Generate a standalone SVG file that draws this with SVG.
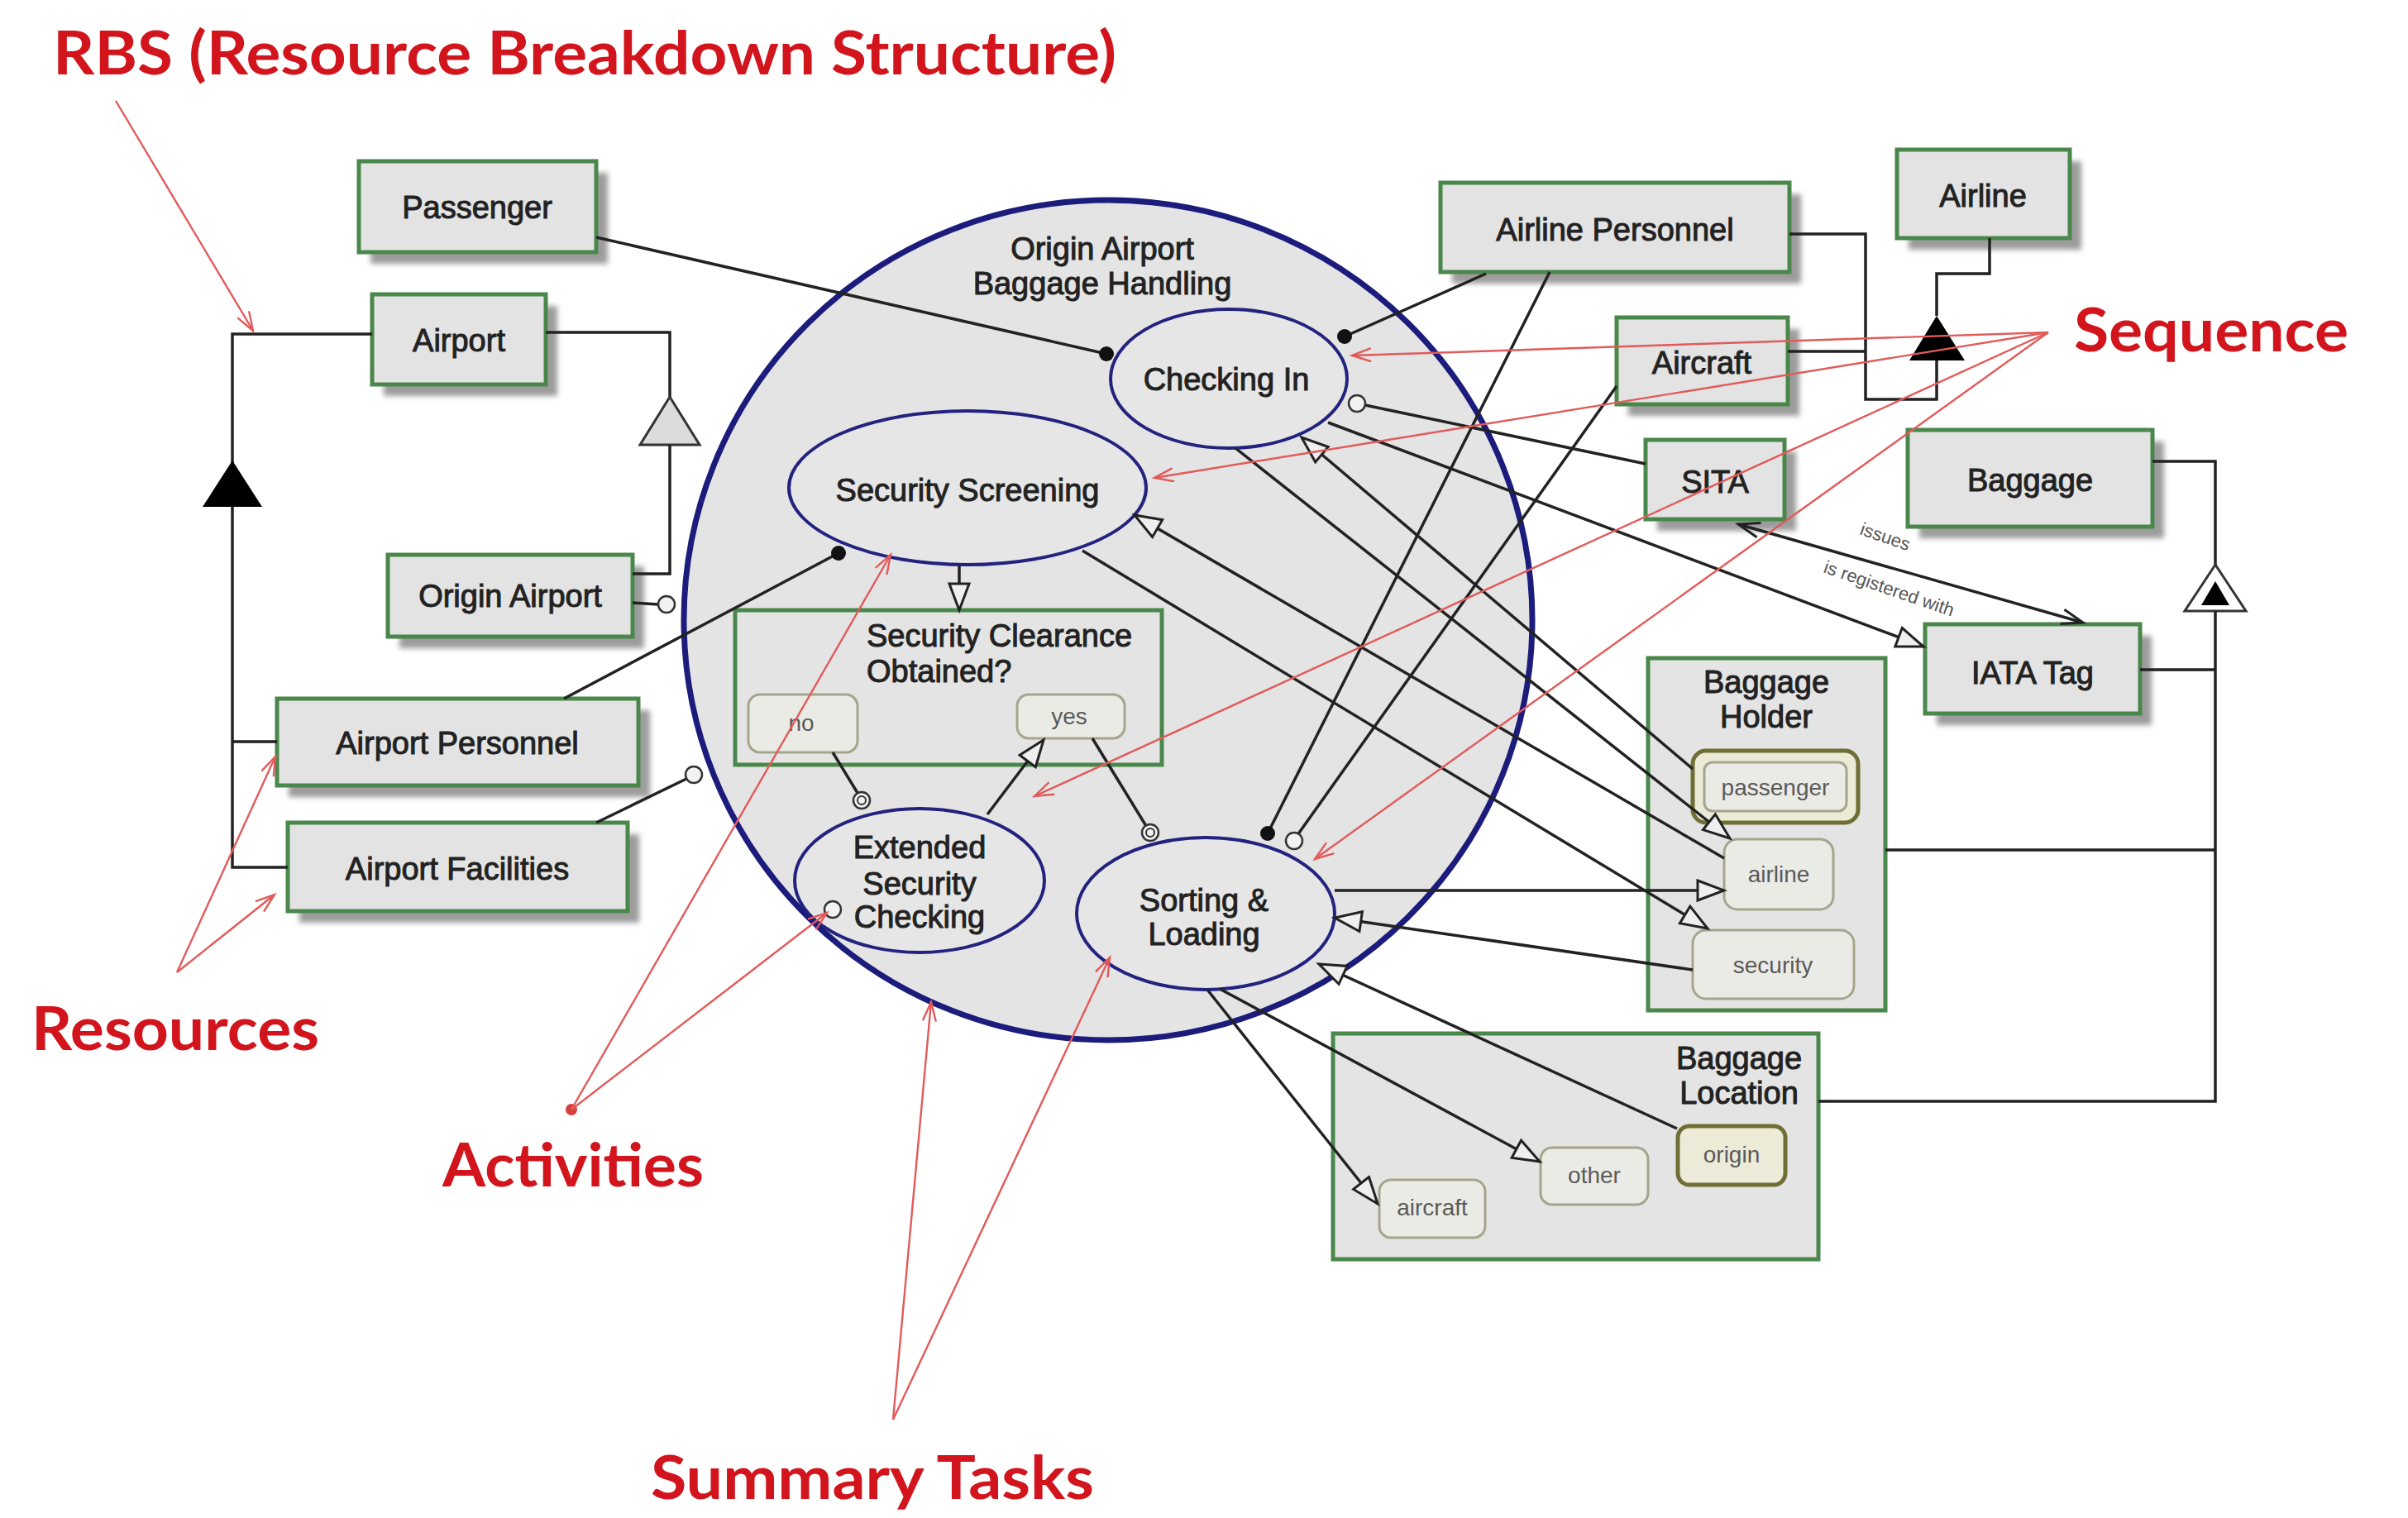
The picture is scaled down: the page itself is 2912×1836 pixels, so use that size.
<svg xmlns="http://www.w3.org/2000/svg" width="2912" height="1836" viewBox="0 0 2912 1836">
<defs>
<style>
.shadow{fill:#9c9c9c;filter:url(#sh)}
.box{fill:#e3e3e3;stroke:#4a874a;stroke-width:5}
.cont{fill:#e4e4e4;stroke:#4a874a;stroke-width:5}
.lbl{font-family:"Liberation Sans",Arial,sans-serif;font-size:38px;fill:#222;text-anchor:middle;stroke:#222;stroke-width:1}
.ann{font-family:Lato,"Open Sans",sans-serif;font-size:72px;font-weight:bold;fill:#d2141c}
.ln{fill:none;stroke:#222;stroke-width:3.5}
.red{fill:none;stroke:#e25a5a;stroke-width:2.4}
.act{fill:#e6e6e6;stroke:#23237f;stroke-width:4}
.pill{fill:#ebebe6;stroke:#a5a58c;stroke-width:3}
.pillx{fill:#ecebd8;stroke:#6f6f35;stroke-width:5}
.pt{font-family:"Liberation Sans",Arial,sans-serif;font-size:28px;fill:#5a5a5a;text-anchor:middle}
.dot{fill:#111}
.hc{fill:#f2f2f2;stroke:#333;stroke-width:2.5}
.rl{font-family:"Liberation Sans",Arial,sans-serif;font-size:22px;fill:#555}
</style>
<filter id="sh" x="-10%" y="-10%" width="130%" height="140%"><feGaussianBlur stdDeviation="3"/></filter>
<marker id="tri" markerUnits="userSpaceOnUse" markerWidth="38" markerHeight="30" refX="34" refY="14" orient="auto"><path d="M2,2 L34,14 L2,26 Z" fill="#efefef" stroke="#222" stroke-width="3"/></marker>
<marker id="vee" markerUnits="userSpaceOnUse" markerWidth="32" markerHeight="24" refX="28" refY="11" orient="auto-start-reverse"><path d="M2,2 L28,11 L2,20" fill="none" stroke="#222" stroke-width="3"/></marker>
<marker id="rv" markerUnits="userSpaceOnUse" markerWidth="28" markerHeight="20" refX="24" refY="9" orient="auto"><path d="M1,1 L24,9 L1,17" fill="none" stroke="#e25a5a" stroke-width="2.4"/></marker>
</defs>
<rect width="2912" height="1836" fill="#ffffff"/>

<!-- containers -->
<g id="origin-airport-baggage-handling">
<ellipse cx="1340" cy="750" rx="513" ry="508" fill="#e4e4e4" stroke="#1c1c7c" stroke-width="7"/>
<text class="lbl" x="1333" y="314">Origin Airport</text>
<text class="lbl" x="1333" y="356">Baggage Handling</text>
</g>
<g id="security-clearance">
<rect class="cont" x="889" y="738" width="516" height="187"/>
<text class="lbl" x="1048" y="782" style="text-anchor:start">Security Clearance</text>
<text class="lbl" x="1048" y="825" style="text-anchor:start">Obtained?</text>
<g id="no"><rect class="pill" x="905" y="840" width="132" height="70" rx="14"/><text class="pt" x="969" y="884">no</text></g>
<g id="yes"><rect class="pill" x="1230" y="840" width="130" height="53" rx="14"/><text class="pt" x="1293" y="876">yes</text></g>
</g>
<g id="baggage-holder">
<rect class="cont" x="1993" y="796" width="287" height="426"/>
<text class="lbl" x="2136" y="838">Baggage</text>
<text class="lbl" x="2136" y="880">Holder</text>
<g id="bh-passenger"><rect class="pillx" x="2047" y="908" width="200" height="87" rx="16"/><rect class="pill" x="2061" y="922" width="172" height="59" rx="10"/><text class="pt" x="2147" y="962">passenger</text></g>
<g id="bh-airline"><rect class="pill" x="2085" y="1015" width="132" height="85" rx="16"/><text class="pt" x="2151" y="1067">airline</text></g>
<g id="bh-security"><rect class="pill" x="2047" y="1125" width="195" height="83" rx="16"/><text class="pt" x="2144" y="1177">security</text></g>
</g>
<g id="baggage-location">
<rect class="cont" x="1612" y="1250" width="587" height="273"/>
<text class="lbl" x="2103" y="1293">Baggage</text>
<text class="lbl" x="2103" y="1335">Location</text>
<g id="bl-origin"><rect class="pillx" x="2029" y="1362" width="130" height="71" rx="14"/><text class="pt" x="2094" y="1406">origin</text></g>
<g id="bl-other"><rect class="pill" x="1863" y="1388" width="130" height="69" rx="14"/><text class="pt" x="1928" y="1431">other</text></g>
<g id="bl-aircraft"><rect class="pill" x="1668" y="1427" width="128" height="70" rx="14"/><text class="pt" x="1732" y="1470">aircraft</text></g>
</g>

<!-- activities -->
<g id="checking-in"><ellipse class="act" cx="1486" cy="458" rx="143" ry="84"/><text class="lbl" x="1483" y="472">Checking In</text></g>
<g id="security-screening"><ellipse class="act" cx="1170" cy="590" rx="216" ry="93"/><text class="lbl" x="1170" y="606">Security Screening</text></g>
<g id="extended-security-checking"><ellipse class="act" cx="1112" cy="1065" rx="151" ry="87" stroke-width="4.5"/>
<text class="lbl" x="1112" y="1038">Extended</text><text class="lbl" x="1112" y="1082">Security</text><text class="lbl" x="1112" y="1122">Checking</text></g>
<g id="sorting-loading"><ellipse class="act" cx="1458" cy="1105" rx="156" ry="92" stroke-width="7"/>
<text class="lbl" x="1456" y="1102">Sorting &amp;</text><text class="lbl" x="1456" y="1143">Loading</text></g>

<!-- resource nodes -->
<g id="passenger"><rect class="shadow" x="448" y="209" width="287" height="110"/><rect class="box" x="434" y="195" width="287" height="110"/><text class="lbl" x="577" y="264">Passenger</text></g>
<g id="airport"><rect class="shadow" x="464" y="370" width="210" height="109"/><rect class="box" x="450" y="356" width="210" height="109"/><text class="lbl" x="555" y="425">Airport</text></g>
<g id="origin-airport"><rect class="shadow" x="483" y="685" width="296" height="99"/><rect class="box" x="469" y="671" width="296" height="99"/><text class="lbl" x="617" y="734">Origin Airport</text></g>
<g id="airport-personnel"><rect class="shadow" x="349" y="859" width="437" height="105"/><rect class="box" x="335" y="845" width="437" height="105"/><text class="lbl" x="553" y="912">Airport Personnel</text></g>
<g id="airport-facilities"><rect class="shadow" x="362" y="1009" width="411" height="107"/><rect class="box" x="348" y="995" width="411" height="107"/><text class="lbl" x="553" y="1064">Airport Facilities</text></g>
<g id="airline-personnel"><rect class="shadow" x="1756" y="235" width="422" height="108"/><rect class="box" x="1742" y="221" width="422" height="108"/><text class="lbl" x="1953" y="291">Airline Personnel</text></g>
<g id="airline"><rect class="shadow" x="2308" y="195" width="209" height="107"/><rect class="box" x="2294" y="181" width="209" height="107"/><text class="lbl" x="2398" y="250">Airline</text></g>
<g id="aircraft"><rect class="shadow" x="1969" y="398" width="207" height="105"/><rect class="box" x="1955" y="384" width="207" height="105"/><text class="lbl" x="2058" y="452">Aircraft</text></g>
<g id="sita"><rect class="shadow" x="2004" y="546" width="168" height="96"/><rect class="box" x="1990" y="532" width="168" height="96"/><text class="lbl" x="2074" y="596">SITA</text></g>
<g id="baggage"><rect class="shadow" x="2321" y="534" width="296" height="117"/><rect class="box" x="2307" y="520" width="296" height="117"/><text class="lbl" x="2455" y="594">Baggage</text></g>
<g id="iata-tag"><rect class="shadow" x="2342" y="769" width="260" height="108"/><rect class="box" x="2328" y="755" width="260" height="108"/><text class="lbl" x="2458" y="827">IATA Tag</text></g>

<!-- connectors -->
<g id="connectors">
<path class="ln" d="M450,404 H281 V1049 H348"/>
<path class="ln" d="M281,897 H335"/>
<path d="M281,557 L245,613 L317,613 Z" fill="#000"/>
<path class="ln" d="M660,402 H810 V480"/>
<path d="M810,480 L774,538 L846,538 Z" fill="#dcdcdc" stroke="#333" stroke-width="3"/>
<path class="ln" d="M810,538 V694 H765"/>
<path class="ln" d="M2406,288 V331 H2342 V382"/>
<path d="M2342,382 L2309,436 L2376,436 Z" fill="#000"/>
<path class="ln" d="M2342,436 V483 H2256 V283 H2164"/>
<path class="ln" d="M2162,425 H2256"/>
<path class="ln" d="M2603,558 H2679 V683"/>
<path d="M2679,683 L2642,739 L2716,739 Z" fill="#fff" stroke="#333" stroke-width="3"/>
<path d="M2679,703 L2662,732 L2696,732 Z" fill="#000"/>
<path class="ln" d="M2679,739 V1332 H2199"/>
<path class="ln" d="M2588,810 H2679"/>
<path class="ln" d="M2280,1028 H2679"/>
<line class="ln" x1="721" y1="287" x2="1338" y2="428"/><circle class="dot" cx="1338" cy="428" r="9"/>
<line class="ln" x1="1797" y1="331" x2="1626" y2="407"/><circle class="dot" cx="1626" cy="407" r="9"/>
<line class="ln" x1="1874" y1="329" x2="1533" y2="1008"/><circle class="dot" cx="1533" cy="1008" r="9"/>
<line class="ln" x1="1955" y1="467" x2="1569" y2="1010"/><circle class="hc" cx="1565" cy="1017" r="10"/>
<line class="ln" x1="1990" y1="561" x2="1651" y2="490"/><circle class="hc" cx="1641" cy="488" r="10"/>
<line class="ln" x1="765" y1="729" x2="796" y2="731"/><circle class="hc" cx="806" cy="731" r="10"/>
<line class="ln" x1="682" y1="845" x2="1014" y2="669"/><circle class="dot" cx="1014" cy="669" r="9"/>
<line class="ln" x1="721" y1="995" x2="830" y2="942"/><circle class="hc" cx="839" cy="937" r="10"/>
<circle class="hc" cx="1007" cy="1100" r="10"/>
<line class="ln" x1="1160" y1="684" x2="1160" y2="738" marker-end="url(#tri)"/>
<line class="ln" x1="1007" y1="910" x2="1037" y2="959"/><circle class="hc" cx="1042" cy="968" r="10"/><circle cx="1042" cy="968" r="5" fill="none" stroke="#333" stroke-width="2"/>
<line class="ln" x1="1321" y1="893" x2="1386" y2="999"/><circle class="hc" cx="1391" cy="1007" r="10"/><circle cx="1391" cy="1007" r="5" fill="none" stroke="#333" stroke-width="2"/>
<line class="ln" x1="1194" y1="985" x2="1262" y2="895" marker-end="url(#tri)"/>
<line class="ln" x1="1494" y1="542" x2="2092" y2="1014" marker-end="url(#tri)"/>
<line class="ln" x1="2047" y1="930" x2="1574" y2="529" marker-end="url(#tri)"/>
<line class="ln" x1="2085" y1="1038" x2="1372" y2="623" marker-end="url(#tri)"/>
<line class="ln" x1="1309" y1="666" x2="2065" y2="1123" marker-end="url(#tri)"/>
<line class="ln" x1="1614" y1="1077" x2="2085" y2="1077" marker-end="url(#tri)"/>
<line class="ln" x1="2047" y1="1173" x2="1614" y2="1110" marker-end="url(#tri)"/>
<line class="ln" x1="1460" y1="1197" x2="1666" y2="1456" marker-end="url(#tri)"/>
<line class="ln" x1="1475" y1="1196" x2="1862" y2="1405" marker-end="url(#tri)"/>
<line class="ln" x1="2028" y1="1365" x2="1595" y2="1166" marker-end="url(#tri)"/>
<line class="ln" x1="1606" y1="511" x2="2326" y2="782" marker-end="url(#tri)"/>
<line class="ln" x1="2102" y1="634" x2="2519" y2="753" marker-start="url(#vee)" marker-end="url(#vee)"/>
<text class="rl" transform="translate(2248,646) rotate(19)">issues</text>
<text class="rl" transform="translate(2204,692) rotate(19)">is registered with</text>
</g>

<!-- annotations -->
<g id="annotations">
<text class="ann" x="64" y="90" textLength="1286" lengthAdjust="spacingAndGlyphs">RBS (Resource Breakdown Structure)</text>
<text class="ann" x="2508" y="425" textLength="332" lengthAdjust="spacingAndGlyphs">Sequence</text>
<text class="ann" x="38" y="1270" textLength="348" lengthAdjust="spacingAndGlyphs">Resources</text>
<text class="ann" x="535" y="1435" textLength="316" lengthAdjust="spacingAndGlyphs">Activities</text>
<text class="ann" x="787" y="1813" textLength="536" lengthAdjust="spacingAndGlyphs">Summary Tasks</text>
<line class="red" x1="140" y1="122" x2="306" y2="400" marker-end="url(#rv)"/>
<line class="red" x1="214" y1="1176" x2="333" y2="915" marker-end="url(#rv)"/>
<line class="red" x1="214" y1="1176" x2="332" y2="1082" marker-end="url(#rv)"/>
<circle cx="691" cy="1342" r="7" fill="#d84040"/>
<line class="red" x1="691" y1="1342" x2="1077" y2="671" marker-end="url(#rv)"/>
<line class="red" x1="691" y1="1342" x2="1000" y2="1104" marker-end="url(#rv)"/>
<line class="red" x1="1080" y1="1717" x2="1126" y2="1212" marker-end="url(#rv)"/>
<line class="red" x1="1080" y1="1717" x2="1342" y2="1158" marker-end="url(#rv)"/>
<line class="red" x1="2477" y1="402" x2="1635" y2="430" marker-end="url(#rv)"/>
<line class="red" x1="2477" y1="402" x2="1396" y2="578" marker-end="url(#rv)"/>
<line class="red" x1="2477" y1="402" x2="1251" y2="963" marker-end="url(#rv)"/>
<line class="red" x1="2477" y1="402" x2="1590" y2="1039" marker-end="url(#rv)"/>
</g>
</svg>
